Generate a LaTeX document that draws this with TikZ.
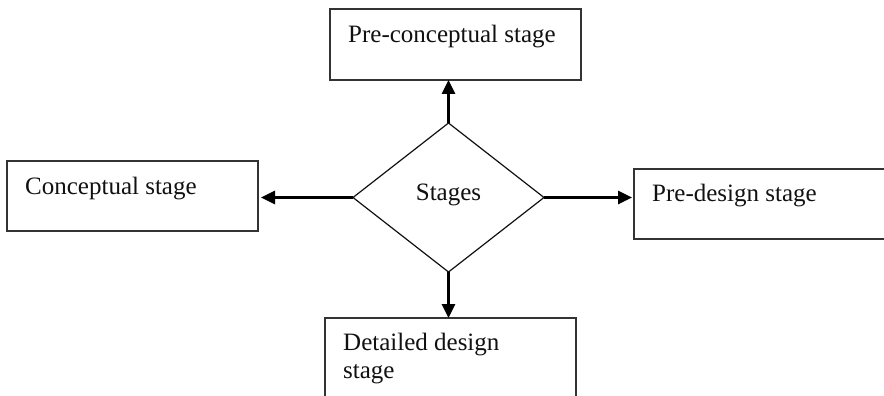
\documentclass[tikz,border=0pt]{standalone}
\usepackage{fontspec}
\setmainfont{Liberation Serif}
\usetikzlibrary{shapes.geometric,arrows.meta}
\definecolor{boxline}{HTML}{333333}
\definecolor{ink}{HTML}{111111}
\begin{document}
\begin{tikzpicture}[x=1pt,y=-1pt,
  stagebox/.style={draw=boxline,line width=1.8pt,rectangle,inner sep=0pt,outer sep=0pt},
  boxtext/.style={anchor=base west,inner sep=0pt,text=ink,font=\fontsize{25}{28}\selectfont},
  hub/.style={draw=ink,line width=1.2pt,diamond,inner sep=0pt,outer sep=0pt,
    minimum width=191pt,minimum height=149pt,text=ink,
    text height=17pt,text depth=11pt,font=\fontsize{25}{28}\selectfont},
  flow/.style={draw=black,line width=3pt,-{Triangle[length=14pt,width=13pt]}}]
  \clip (0,0) rectangle (884,396);
  \fill[white] (0,0) rectangle (884,396);

  % stage boxes
  \node[stagebox,minimum width=251pt,minimum height=71pt] (pre) at (455.5,44.5) {};
  \node[stagebox,minimum width=251pt,minimum height=70pt] (con) at (132.5,196) {};
  \node[stagebox,minimum width=252pt,minimum height=70pt] (pds) at (760,204) {};
  \node[stagebox,minimum width=251pt,minimum height=84pt] (det) at (450.5,360) {};

  % box labels
  \node[boxtext] (preT) at (348,43) {Pre-conceptual stage};
  \node[boxtext] (conT) at (25,194) {Conceptual stage};
  \node[boxtext] (pdsT) at (652,201) {Pre-design stage};
  \node[boxtext] (detT1) at (343,350) {Detailed design};
  \node[boxtext] (detT2) at (343,378) {stage};

  % central decision shape
  \node[hub] (hub) at (448.5,197.5) {Stages};

  % connectors
  \draw[flow] (hub.north) -- (hub.north |- pre.south);
  \draw[flow,shorten >=3pt] (hub.west) -- (hub.west -| con.east);
  \draw[flow,shorten >=2pt] (hub.east) -- (hub.east -| pds.west);
  \draw[flow] (hub.south) -- (hub.south |- det.north);
\end{tikzpicture}
\end{document}
